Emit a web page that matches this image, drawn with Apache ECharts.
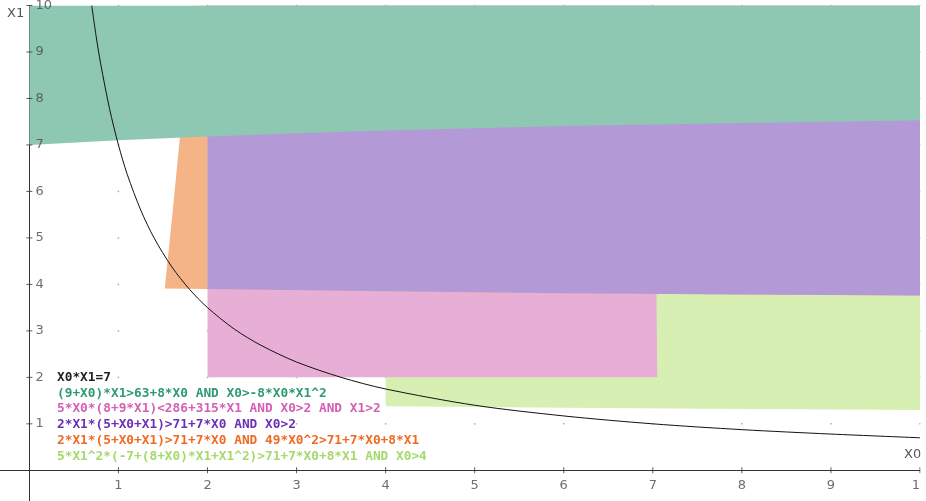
<!DOCTYPE html>
<html>
<head>
<meta charset="utf-8">
<script src="https://cdn.jsdelivr.net/npm/echarts@6/dist/echarts.min.js"></script>
<style>
html,body{margin:0;padding:0;background:#fff;}
#chart{width:926px;height:501px;}
</style>
</head>
<body>
<div id="chart"></div>
<script>
// ---- data ----
const xTicks = [1,2,3,4,5,6,7,8,9,10];
const yTicks = [1,2,3,4,5,6,7,8,9,10];

// X0*X1=7 curve
const curvePts = [[0.7,10],[0.75,9.33],[0.8,8.75],[0.9,7.78],[1,7],[1.1,6.36],[1.25,5.6],[1.4,5],[1.6,4.375],[1.8,3.89],[2,3.5],[2.3,3.04],[2.6,2.69],[3,2.33],[3.5,2],[4,1.75],[5,1.4],[6,1.17],[7,1],[8,0.875],[9,0.78],[10,0.7]];

// region outlines [X0, X1]
const regionGreen  = [[0,7.0],[1,7.1],[2,7.18],[3,7.25],[4,7.31],[5,7.36],[6,7.41],[7,7.44],[8,7.47],[9,7.5],[10,7.53],[10,10],[0,10]];
const regionPink   = [[2,2],[7.05,2],[7.03,6],[7.01,10],[2,10]];
const regionPurple = [[2,3.9],[4,3.85],[6,3.81],[8,3.78],[10,3.76],[10,10],[2,10]];
const regionOrange = [[1.52,3.91],[1.6,5.4],[1.69,7.17],[1.83,10],[10,10],[10,3.76],[8,3.78],[6,3.81],[4,3.85],[2,3.9]];
const regionLight  = [[4,1.38],[6,1.346],[8,1.318],[10,1.297],[10,10],[4,10]];

const legendTexts = [
  'X0*X1=7',
  '(9+X0)*X1>63+8*X0 AND X0>-8*X0*X1^2',
  '5*X0*(8+9*X1)<286+315*X1 AND X0>2 AND X1>2',
  '2*X1*(5+X0+X1)>71+7*X0 AND X0>2',
  '2*X1*(5+X0+X1)>71+7*X0 AND 49*X0^2>71+7*X0+8*X1',
  '5*X1^2*(-7+(8+X0)*X1+X1^2)>71+7*X0+8*X1 AND X0>4'
];
const legendColors = ['#222222','#2f9a70','#d55fb5','#6c30b4','#f06a22','#a6d96c'];

// ---- chart ----
const chart = echarts.init(document.getElementById('chart'), null, {renderer:'canvas'});

function regionSeries(pts, color, z){
  return {
    type:'custom', z:z, silent:true, clip:true,
    data:[0],
    renderItem:function(params, api){
      return {type:'polygon', shape:{points:pts.map(p=>api.coord(p))}, style:{fill:color}};
    }
  };
}

const lattice = [];
xTicks.forEach(x=>yTicks.forEach(y=>lattice.push([x,y])));

const graphics = [];
legendTexts.forEach((t,i)=>{
  graphics.push({type:'text', left:57, top:371 + i*15.8, z:100,
    style:{text:t, fill:legendColors[i], font:'bold 12.8px "DejaVu Sans Mono"'}});
});
graphics.push({type:'text', left:7, top:7, z:100, style:{text:'X1', fill:'#555', font:'13px "DejaVu Sans"'}});
graphics.push({type:'text', left:904, top:448, z:100, style:{text:'X0', fill:'#555', font:'13px "DejaVu Sans"'}});
graphics.push({type:'rect', shape:{x:920.5, y:0, width:6, height:501}, style:{fill:'#fff'}, z:200});

const tickLabel = {color:'#4a4a4a', fontSize:13, fontFamily:'DejaVu Sans'};

chart.setOption({
  animation:false,
  backgroundColor:'#fff',
  grid:{left:0, right:6, top:5.5, bottom:0, containLabel:false, outerBoundsMode:'none'},
  xAxis:{type:'value', min:-0.33, max:10,
    axisLine:{onZero:true, lineStyle:{color:'#333', width:1}},
    axisTick:{show:false}, axisLabel:{show:false}, splitLine:{show:false}},
  yAxis:{type:'value', min:-0.66, max:10,
    axisLine:{onZero:true, lineStyle:{color:'#333', width:1}},
    axisTick:{show:false}, axisLabel:{show:false}, splitLine:{show:false}},
  graphic:graphics,
  series:[
    {type:'scatter', z:0, silent:true, data:lattice, symbol:'rect', symbolSize:1.5, itemStyle:{color:'#999'}},
    regionSeries(regionLight,  '#d8efb4', 1),
    regionSeries(regionPink,   '#e7afd6', 2),
    regionSeries(regionOrange, '#f4b487', 3),
    regionSeries(regionPurple, '#b39ad6', 4),
    regionSeries(regionGreen,  '#8fc8b2', 5),
    {type:'line', z:6, silent:true, data:curvePts, smooth:0.3, symbol:'none',
      lineStyle:{color:'#111', width:1}},
    {type:'scatter', z:7, silent:true, clip:false, data:xTicks.map(v=>[v,0]), symbol:'rect', symbolSize:[1,6], itemStyle:{color:'#333'},
      label:Object.assign({show:true, position:'bottom', distance:6, formatter:p=>String(p.value[0])}, tickLabel)},
    {type:'scatter', z:7, silent:true, clip:false, data:yTicks.map(v=>[0,v]), symbol:'rect', symbolSize:[6,1], itemStyle:{color:'#333'},
      label:Object.assign({show:true, position:'right', distance:3, formatter:p=>String(p.value[1])}, tickLabel)}
  ]
});
</script>
</body>
</html>
